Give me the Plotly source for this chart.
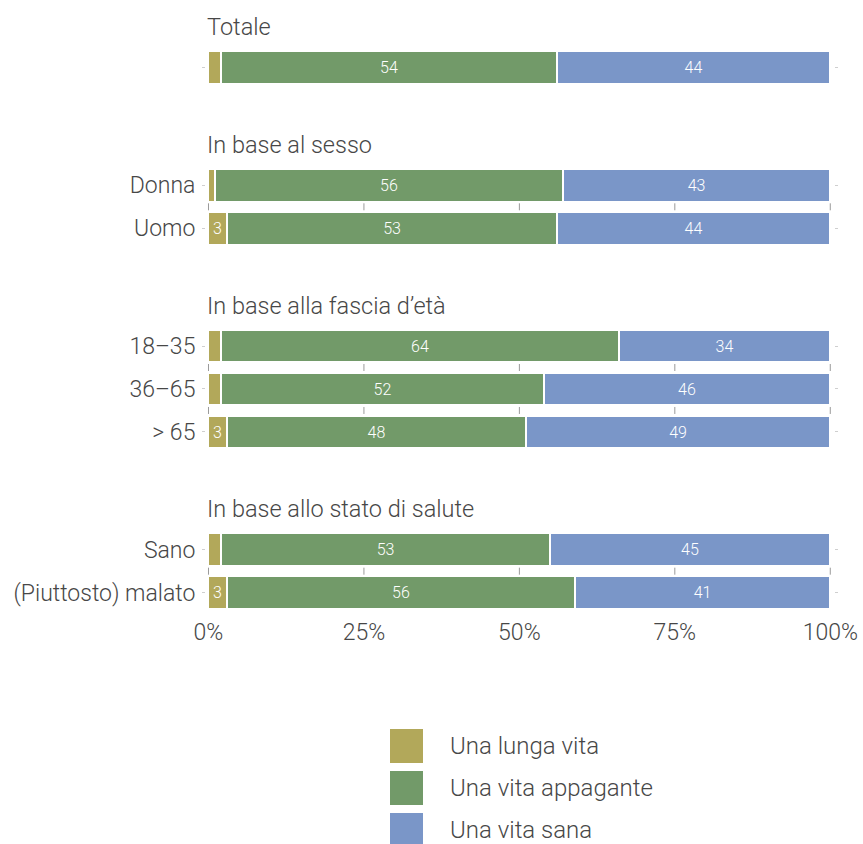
import plotly.graph_objects as go

# Survey answers: share (%) choosing each kind of life, by respondent group
group_titles = ["Totale", "In base al sesso", "In base alla fascia d’età", "In base allo stato di salute"]
group_rows = [
    [""],
    ["Donna", "Uomo"],
    ["18–35", "36–65", "> 65"],
    ["Sano", "(Piuttosto) malato"],
]
series_names = ["Una lunga vita", "Una vita appagante", "Una vita sana"]
lunga_vita = [2, 1, 3, 2, 2, 3, 2, 3]
vita_appagante = [54, 56, 53, 64, 52, 48, 53, 56]
vita_sana = [44, 43, 44, 34, 46, 49, 45, 41]
series_values = [lunga_vita, vita_appagante, vita_sana]
series_colors = ["#B2A85A", "#729A69", "#7A96C8"]
x_tickvals = [0, 25, 50, 75, 100]
x_ticktext = ["0%", "25%", "50%", "75%", "100%"]

FONT = "Roboto"
TEXT = "#474747"
WEIGHT = 300

# Row layout: one unit per bar, extra gap between groups, header above each group
GROUP_GAP = 2.74
HEADER_OFFSET = 0.94
row_pos, row_labels, header_pos, inner_gaps = [], [], [], []
pos = 0.0
for g, rows in enumerate(group_rows):
    if g > 0:
        pos += GROUP_GAP
    header_pos.append(pos - HEADER_OFFSET)
    for i, lab in enumerate(rows):
        if i > 0:
            inner_gaps.append(pos + 0.5)
            pos += 1
        row_pos.append(pos)
        row_labels.append(lab)
y_top = -HEADER_OFFSET - 0.40
y_bottom = row_pos[-1] + 0.45

fig = go.Figure()
for name, vals, col in zip(series_names, series_values, series_colors):
    fig.add_trace(go.Bar(
        x=vals, y=row_pos, orientation="h", name=name,
        marker=dict(color=col, line=dict(color="white", width=2)),
        width=0.76,
        text=[str(v) if v >= 3 else "" for v in vals],
        textposition="inside", insidetextanchor="middle",
        textfont=dict(family=FONT, size=16, color="white", weight=WEIGHT),
        hoverinfo="skip", showlegend=False,
    ))

# Short axis ticks visible in the gaps between bars of the same group
tick_x, tick_y = [], []
for yg in inner_gaps:
    for xv in x_tickvals:
        tick_x.append(xv)
        tick_y.append(yg)
fig.add_trace(go.Scatter(
    x=tick_x, y=tick_y, mode="markers",
    marker=dict(symbol="line-ns", size=5, line=dict(color="#9a9a9a", width=1)),
    hoverinfo="skip", showlegend=False, cliponaxis=False,
))

# Group headers
for title, hy in zip(group_titles, header_pos):
    fig.add_annotation(x=0, y=hy, xref="x", yref="y", text=title, showarrow=False,
                       xanchor="left", yanchor="middle", xshift=-3,
                       font=dict(family=FONT, size=23.5, color=TEXT, weight=WEIGHT))

W, H = 863, 844
ML, MR, MT, MB = 206, 29, 10, 232
plot_h = H - MT - MB
plot_w = W - ML - MR


def py(px_y):
    return (H - MB - px_y) / plot_h


def px(px_x):
    return (px_x - ML) / plot_w


# Legend drawn as large swatches with labels
for i, (name, col) in enumerate(zip(series_names, series_colors)):
    cy = 746 + 42 * i
    fig.add_shape(type="rect", xref="paper", yref="paper",
                  x0=px(390), x1=px(423), y0=py(cy + 17), y1=py(cy - 17),
                  fillcolor=col, line=dict(width=0), layer="above")
    fig.add_annotation(x=px(448), y=py(cy), xref="paper", yref="paper", text=name,
                       showarrow=False, xanchor="left", yanchor="middle",
                       font=dict(family=FONT, size=24, color=TEXT, weight=WEIGHT))

fig.update_layout(
    barmode="stack",
    width=W, height=H,
    margin=dict(l=ML, r=MR, t=MT, b=MB, autoexpand=False),
    paper_bgcolor="white", plot_bgcolor="white",
    bargap=0,
    xaxis=dict(range=[-0.4, 100.6], tickvals=x_tickvals, ticktext=x_ticktext,
               showgrid=False, zeroline=False, showline=False, ticks="", automargin=False,
               tickfont=dict(family=FONT, size=23, color=TEXT, weight=WEIGHT),
               ticklabelstandoff=4),
    yaxis=dict(range=[y_bottom, y_top], tickvals=row_pos, ticktext=row_labels,
               showgrid=False, zeroline=False, showline=False, automargin=False,
               ticks="outside", ticklen=3, tickcolor="#cfcfcf", mirror="ticks",
               tickfont=dict(family=FONT, size=23, color=TEXT, weight=WEIGHT),
               ticklabelstandoff=2),
    font=dict(family=FONT, color=TEXT),
)

fig.write_html("out.html")
